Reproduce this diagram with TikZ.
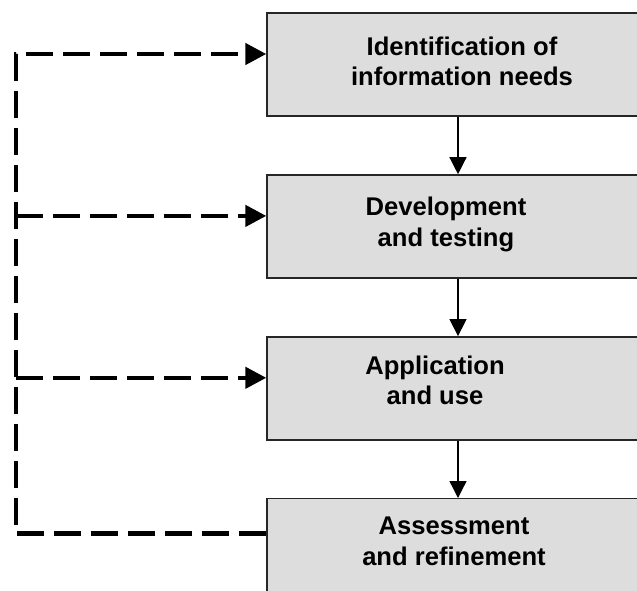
\documentclass[tikz,border=0pt]{standalone}
\usepackage{fontspec}
\setmainfont{Liberation Sans}
\usetikzlibrary{positioning,arrows.meta}
\definecolor{boxgray}{RGB}{221,221,221}

\begin{document}
\begin{tikzpicture}[x=1pt,y=-1pt,node distance=57.5pt,
    stage/.style={draw=black!85,line width=1.4pt,fill=boxgray,minimum width=382pt,minimum height=103pt},
    stagetext/.style={align=center,font=\fontsize{25.6}{30.5}\selectfont\bfseries},
    flow/.style={line width=1.3pt,-{Triangle[length=17pt,width=17pt]}},
    feedback/.style={line width=4.5pt,dash pattern=on 27pt off 10pt}]
    \clip (0,0) rectangle (637,590);
    \node[stage] (ident) at (458,64.5) {};
    \node[stage,below = of ident] (devel) {};
    \node[stage,below = of devel] (appl) {};
    \node[stage,below = of appl] (assess) {};
    %
    \node[stagetext] (ident_txt) at ([xshift=4pt,yshift=3pt]ident.center) {Identification of\\information needs};
    \node[stagetext] (devel_txt) at ([xshift=-12pt,yshift=2pt]devel.center) {Development\\and testing};
    \node[stagetext] (appl_txt) at ([xshift=-23pt,yshift=8pt]appl.center) {Application\\and use};
    \node[stagetext] (assess_txt) at ([xshift=-4pt,yshift=9pt]assess.center) {Assessment\\and refinement};
    %
    \draw[flow] (ident) -- (devel);
    \draw[flow] (devel) -- (appl);
    \draw[flow] (appl) -- (assess);
    %
    \coordinate (ident_in) at ([yshift=10.5pt]ident.west);
    \coordinate (devel_in) at ([yshift=10.5pt]devel.west);
    \coordinate (appl_in) at ([yshift=10.5pt]appl.west);
    \coordinate (assess_out) at ([yshift=16.5pt]assess.west);
    \coordinate (loop_low) at (16,0 |- assess_out);
    \draw[feedback,-{Triangle[length=21pt,width=21pt]}] (assess_out) -- (loop_low) |- (ident_in);
    \draw[feedback,-{Triangle[length=21pt,width=21pt]}] (loop_low |- devel_in) -- (devel_in);
    \draw[feedback,-{Triangle[length=21pt,width=21pt]}] (loop_low |- appl_in) -- (appl_in);
  \end{tikzpicture}
\end{document}
